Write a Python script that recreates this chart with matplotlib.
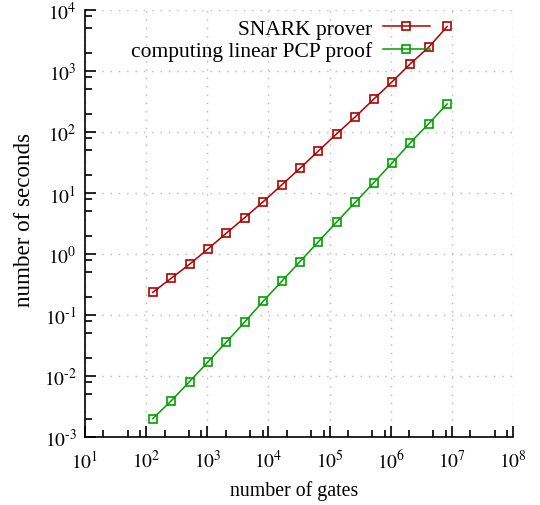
import numpy as np
import matplotlib
matplotlib.use("Agg")
import matplotlib.pyplot as plt
from matplotlib.ticker import LogLocator, NullFormatter, FixedLocator

plt.rcParams['font.family'] = ['Liberation Serif', 'DejaVu Serif']
plt.rcParams['mathtext.fontset'] = 'stix'

## gates: powers of two 2^7 .. 2^23
gates = [2 ** k for k in range(7, 24)]

snark_prover = [0.235, 0.40, 0.68, 1.21, 2.20, 3.96, 7.2, 13.5, 25.5,
                49, 94, 177, 345, 665, 1320, 2470, 5400]
linear_pcp = [0.0020, 0.0039, 0.0081, 0.017, 0.036, 0.077, 0.168, 0.355, 0.752,
              1.59, 3.37, 7.03, 14.7, 31, 67, 138, 290]

xexp = [1, 2, 3, 4, 5, 6, 7, 8]
yexp = [-3, -2, -1, 0, 1, 2, 3, 4]

red = '#b00000'
green = '#00a000'

def powlabel(e):
    # gnuplot style: short hyphen in the exponent
    if e < 0:
        return '$10^{\\text{-}%d}$' % (-e)
    return '$10^{%d}$' % e

fig = plt.figure(figsize=(5.4, 5.06), dpi=100)
ax = fig.add_axes([0.1574, 0.1344, 0.7926, 0.8436])

ax.plot(gates, snark_prover, color=red, lw=1.1, marker='s', ms=6,
        mfc='none', mec=red, mew=1.2, label='SNARK prover')
ax.plot(gates, linear_pcp, color=green, lw=1.1, marker='s', ms=6,
        mfc='none', mec=green, mew=1.2, label='computing linear PCP proof')

ax.set_xscale('log')
ax.set_yscale('log')
ax.set_xlim(10.0 ** xexp[0], 10.0 ** xexp[-1])
ax.set_ylim(10.0 ** yexp[0], 10.0 ** yexp[-1])

ax.xaxis.set_major_locator(FixedLocator([10.0 ** e for e in xexp]))
ax.yaxis.set_major_locator(FixedLocator([10.0 ** e for e in yexp]))
ax.set_xticklabels([powlabel(e) for e in xexp])
ax.set_yticklabels([powlabel(e) for e in yexp])
ax.xaxis.set_minor_locator(LogLocator(base=10, subs=(2, 5, 8), numticks=50))
ax.yaxis.set_minor_locator(LogLocator(base=10, subs=(2, 5, 8), numticks=50))
ax.xaxis.set_minor_formatter(NullFormatter())
ax.yaxis.set_minor_formatter(NullFormatter())

ax.tick_params(which='major', direction='in', length=8, width=1.2,
               labelsize=14, top=False, right=False)
ax.tick_params(which='minor', direction='in', length=5, width=1.2,
               top=False, right=False)
ax.tick_params(axis='x', which='major', pad=9)
ax.tick_params(axis='y', which='major', pad=6)

for s in ['top', 'right']:
    ax.spines[s].set_visible(False)
for s in ['left', 'bottom']:
    ax.spines[s].set_linewidth(1.2)

ax.grid(True, which='major', color='#b8b8b8', lw=1, linestyle=(0, (1, 5)))
ax.set_axisbelow(True)

ax.set_xlabel('number of gates', fontsize=14.3, labelpad=6)
ax.set_ylabel('number of seconds', fontsize=16.6, labelpad=6)
ax.xaxis.label.set_x(0.488)
ax.yaxis.label.set_y(0.512)

ax.legend(loc='upper right', bbox_to_anchor=(0.826, 1.0), frameon=False,
          markerfirst=False, fontsize=15.5, handlelength=2.2,
          handletextpad=0.5, labelspacing=0.1, borderaxespad=0.0)

fig.savefig('out.png', dpi=100)
